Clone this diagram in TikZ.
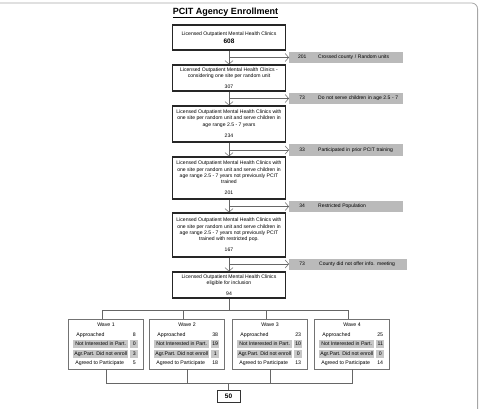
\documentclass[tikz,border=0pt]{standalone}
\usepackage{fontspec}
\setmainfont{Liberation Sans}
\usetikzlibrary{arrows.meta}

\tikzset{
  mainbox/.style={draw=black!85, line width=1.1pt, fill=white, minimum width=113pt,
    align=center, inner sep=0pt, font=\fontsize{5.1}{6.2}\selectfont},
  sidebox/.style={fill=black!27, text width=#1, minimum height=11pt, inner sep=0pt,
    anchor=west, align=left, font=\fontsize{5}{6}\selectfont},
  flow/.style={draw=black!60, line width=0.6pt},
  flowarrow/.style={flow, -{Straight Barb[length=3.5pt,width=8pt,line width=0.5pt]}},
  wavebox/.style={draw=black!55, line width=0.6pt, minimum width=75pt, minimum height=50pt, inner sep=0pt},
  wavetext/.style={font=\fontsize{5.2}{6}\selectfont, inner sep=0pt},
  waveband/.style={fill=black!22, minimum height=8pt, inner sep=0pt, font=\fontsize{5.2}{6}\selectfont},
}

\begin{document}
\begin{tikzpicture}[x=1pt, y=-1pt]
\useasboundingbox (0,0) rectangle (479,409);
\draw[gray!70, line width=0.8pt, rounded corners=6pt] (0,3) -- (477.6,3) -- (477.6,409);

\node[font=\fontsize{9}{10}\selectfont\bfseries] (title) at (225.5,13) {\underline{PCIT Agency Enrollment}};

% main column
\node[mainbox, minimum height=25pt] (b1) at (229,37.5)
  {Licensed Outpatient Mental Health Clinics\\[2pt]{\fontsize{6.5}{7}\selectfont\bfseries 608}};
\node[mainbox, minimum height=26pt] (b2) at (229,78)
  {Licensed Outpatient Mental Health Clinics -\\considering one site per random unit\\[5pt]307};
\node[mainbox, minimum height=36pt] (b3) at (229,124)
  {Licensed Outpatient Mental Health Clinics with\\one site per random unit and serve children in\\age range 2.5 - 7 years\\[5.5pt]234};
\node[mainbox, minimum height=42pt] (b4) at (229,178)
  {Licensed Outpatient Mental Health Clinics with\\one site per random unit and serve children in\\age range 2.5 - 7 years not previously PCIT\\trained\\[5pt]201};
\node[mainbox, minimum height=44pt] (b5) at (229,235)
  {Licensed Outpatient Mental Health Clinics with\\one site per random unit and serve children in\\age range 2.5 - 7 years not previously PCIT\\trained with restricted pop.\\[5pt]167};
\node[mainbox, minimum height=26pt] (b6) at (229,285)
  {Licensed Outpatient Mental Health Clinics\\eligible for inclusion\\[5pt]94};

% excluded
\node[sidebox=114pt] (s1) at (289,57.5) {\makebox[26pt]{201}\hspace{3pt}Crossed county / Random units};
\node[sidebox=114pt] (s2) at (289,98.5) {\makebox[26pt]{73}\hspace{3pt}Do not serve children in age 2.5 - 7};
\node[sidebox=114pt] (s3) at (289,150) {\makebox[26pt]{33}\hspace{3pt}Participated in prior PCIT training};
\node[sidebox=114pt] (s4) at (289,206.5) {\makebox[26pt]{34}\hspace{3pt}Restricted Population};
\node[sidebox=118pt] (s5) at (289,264) {\makebox[26pt]{73}\hspace{4pt}County did not offer info. meeting};

\draw[flowarrow] (b1.south) -- (b2.north);
\draw[flowarrow] (b2.south) -- (b3.north);
\draw[flowarrow] (b3.south) -- (b4.north);
\draw[flowarrow] (b4.south) -- (b5.north);
\draw[flowarrow] (b5.south) -- (b6.north);
\draw[flowarrow] (s1.west -| b1.south) -- (s1.west);
\draw[flowarrow] (s2.west -| b1.south) -- (s2.west);
\draw[flowarrow] (s3.west -| b1.south) -- (s3.west);
\draw[flowarrow] (s4.west -| b1.south) -- (s4.west);
\draw[flowarrow] (s5.west -| b1.south) -- (s5.west);

% waves
\foreach \n/\x/\a/\ni/\ag/\ok in {1/106/8/0/3/5, 2/187/38/19/1/18, 3/270/23/10/0/13, 4/352/25/11/0/14} {
  \node[wavebox] (w\n) at (\x,344) {};
  \coordinate (w\n-top) at ([xshift=-4pt]w\n.north);
  \node[wavetext] (w\n-title) at ([yshift=-6pt]w\n.north) {Wave \n};
  \node[wavetext, anchor=west] (w\n-appr) at ([xshift=8pt,yshift=-16pt]w\n.north west) {Approached};
  \node[wavetext] (w\n-apprn) at ([xshift=66pt,yshift=-16pt]w\n.north west) {\a};
  \node[waveband, minimum width=55pt] (w\n-not) at ([xshift=32.5pt,yshift=-25pt]w\n.north west) {Not Interested in Part.};
  \node[waveband, minimum width=8pt] (w\n-notn) at ([xshift=66pt,yshift=-25pt]w\n.north west) {\ni};
  \node[waveband, minimum width=55pt] (w\n-agr) at ([xshift=32.5pt,yshift=-35pt]w\n.north west) {Agr.Part. Did not enroll};
  \node[waveband, minimum width=8pt] (w\n-agrn) at ([xshift=66pt,yshift=-35pt]w\n.north west) {\ag};
  \node[wavetext, anchor=west] (w\n-ok) at ([xshift=7pt,yshift=-44pt]w\n.north west) {Agreed to Participate};
  \node[wavetext] (w\n-okn) at ([xshift=66pt,yshift=-44pt]w\n.north west) {\ok};
}

\coordinate (split) at (229,310);
\draw[flow] (b6.south) -- (split);
\draw[flow] (w1-top) -- (w1-top |- split) -- (w4-top |- split) -- (w4-top);
\draw[flow] (w2-top) -- (w2-top |- split);
\draw[flow] (w3-top) -- (w3-top |- split);

\node[draw=black!80, line width=0.9pt, minimum width=23pt, minimum height=12pt,
  font=\fontsize{6.5}{7}\selectfont\bfseries] (total) at (228.5,396) {50};
\coordinate (join) at (228.5,383);
\draw[flow] (w1.south) -- (w1.south |- join) -- (w4.south |- join) -- (w4.south);
\draw[flow] (w2.south) -- (w2.south |- join);
\draw[flow] (w3.south) -- (w3.south |- join);
\draw[flow] (join) -- (total);
\end{tikzpicture}
\end{document}
